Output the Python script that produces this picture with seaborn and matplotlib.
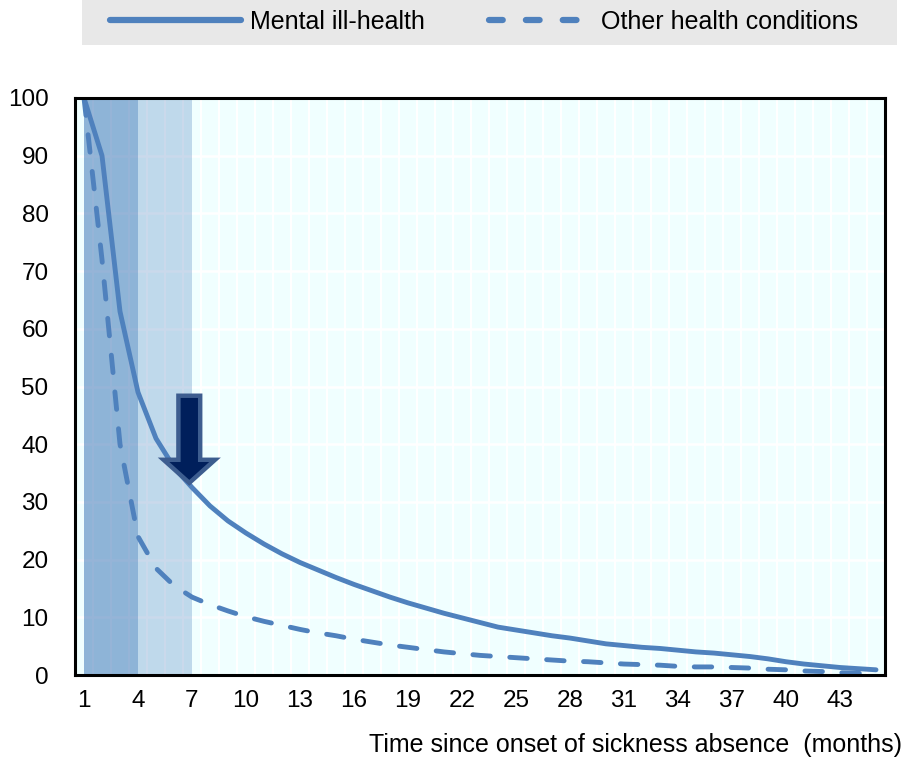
# %%
# import libraries

import numpy as np
import pandas as pd
import matplotlib
matplotlib.use('Agg')
import matplotlib.pyplot as plt
from matplotlib.patches import Rectangle, FancyArrow
from matplotlib.lines import Line2D
import seaborn as sns

# %%
# chart data (share still on sickness absence, by months since onset)

months = list(range(1, 46))
mental = [100, 90, 63, 49, 41, 36, 32.5, 29.3, 26.7, 24.6,
          22.7, 21, 19.5, 18.2, 16.9, 15.7, 14.6, 13.5, 12.5, 11.6,
          10.7, 9.9, 9.1, 8.3, 7.8, 7.3, 6.8, 6.4, 5.9, 5.4,
          5.1, 4.8, 4.6, 4.3, 4.0, 3.8, 3.5, 3.2, 2.8, 2.3,
          1.9, 1.6, 1.3, 1.1, 0.9]
other = [100, 72, 40, 24, 18.5, 15.5, 13.5, 12.2, 11.1, 10.1,
         9.3, 8.6, 7.9, 7.3, 6.8, 6.2, 5.7, 5.2, 4.8, 4.4,
         4.0, 3.7, 3.4, 3.2, 3.0, 2.8, 2.6, 2.4, 2.3, 2.1,
         1.9, 1.8, 1.7, 1.5, 1.4, 1.4, 1.3, 1.2, 1.0, 0.9,
         0.7, 0.6, 0.4, 0.3, 0.2]
backdrop = [100] * len(months)
series_names = ['Mental ill-health', 'Other health conditions']
x_ticks = list(range(1, 46, 3))
y_ticks = list(range(0, 101, 10))
dark_band = (1, 4)
light_band = (4, 7)
arrow_x, arrow_top, arrow_tip = 6.85, 48.4, 33.3

# %%
# style

sns.set_style('white')
plt.rcParams['font.family'] = ['Liberation Sans', 'DejaVu Sans']
plt.rcParams['text.color'] = 'black'
plt.rcParams['xtick.color'] = 'black'
plt.rcParams['ytick.color'] = 'black'
LINE_COLOR = '#4F81BD'
FS = 18

fig = plt.figure(figsize = (9.04, 7.64), dpi = 100)
axis = fig.add_axes([75 / 904, 1 - 675 / 764, 810 / 904, 577 / 764])
axis.set_facecolor('white')

# background columns
sns.barplot(x = months, y = backdrop, native_scale = True, color = '#F0FFFF',
            saturation = 1, width = 0.92, linewidth = 0, errorbar = None, ax = axis, zorder = 1)
for yv in y_ticks[1:-1]:
    axis.axhline(yv, color = 'white', lw = 1.8, zorder = 1.5)

# shaded periods
axis.axvspan(*dark_band, color = '#2E6BB0', alpha = 0.5, lw = 0, zorder = 2)
axis.axvspan(*light_band, color = '#2E6BB0', alpha = 0.25, lw = 0, zorder = 2)

# lines
df = pd.DataFrame({'month': months, 'mental': mental, 'other': other})
sns.lineplot(data = df, x = 'month', y = 'mental', color = LINE_COLOR, lw = 3.5, ax = axis, zorder = 3)
sns.lineplot(data = df, x = 'month', y = 'other', color = LINE_COLOR, lw = 3.5, ax = axis, zorder = 3,
             linestyle = (0, (3.6, 4.0)), dash_capstyle = 'round')

# arrow
arrow = FancyArrow(arrow_x, arrow_top, 0, arrow_tip - arrow_top, width = 1.21, head_width = 2.86,
                   head_length = 4.0, length_includes_head = True, facecolor = '#001F5B',
                   edgecolor = '#3D5D8F', lw = 3.2, zorder = 4)
axis.add_patch(arrow)

# axes
axis.set_xlim(0.5, 45.5)
axis.set_ylim(0, 100)
axis.set_xticks(x_ticks)
axis.set_xticklabels([str(t) for t in x_ticks])
axis.set_yticks(y_ticks)
axis.set_xlabel('')
axis.set_ylabel('')
axis.tick_params(axis = 'y', direction = 'in', length = 9, width = 2, color = 'black', pad = 19, labelsize = 17.5)
axis.tick_params(axis = 'x', length = 0, pad = 11, labelsize = 17.5)
for sp in axis.spines.values():
    sp.set_visible(True)
    sp.set_color('black')
    sp.set_linewidth(2.2)
    sp.set_zorder(5)

fig.text(902 / 904, 1 - 745 / 764, 'Time since onset of sickness absence  (months)',
         ha = 'right', va = 'center', fontsize = FS)

# legend box on top
fig.patches.append(Rectangle((82 / 904, 1 - 45 / 764), 815 / 904, 45 / 764, facecolor = '#E8E8E8',
                             edgecolor = 'none', transform = fig.transFigure, zorder = 0))
solid_handle = Line2D([], [], color = LINE_COLOR, lw = 4.5, solid_capstyle = 'round')
dash_handle = Line2D([], [], color = LINE_COLOR, lw = 4.5, linestyle = (0, (2.2, 3.7)), dash_capstyle = 'round')
fig.legend([solid_handle], series_names[:1], loc = 'center left', bbox_to_anchor = (98 / 904, 1 - 22 / 764),
           frameon = False, fontsize = FS, handlelength = 5.2, handletextpad = 0.4, borderpad = 0)
fig.legend([dash_handle], series_names[1:], loc = 'center left', bbox_to_anchor = (477 / 904, 1 - 22 / 764),
           frameon = False, fontsize = FS, handlelength = 3.7, handletextpad = 0.75, borderpad = 0)

fig.savefig('out.png', dpi = 100)
